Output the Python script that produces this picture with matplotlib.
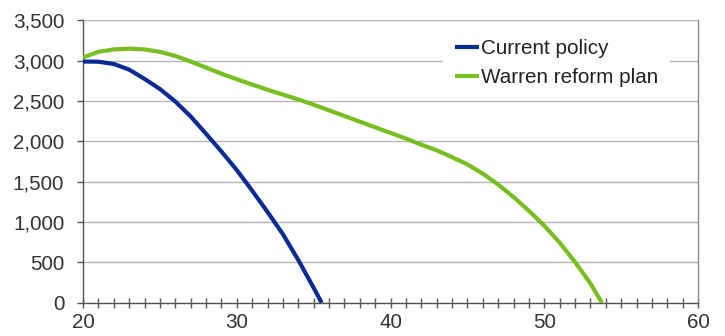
import matplotlib
matplotlib.use('Agg')
import matplotlib.pyplot as plt
from matplotlib.ticker import MultipleLocator, FuncFormatter

plt.rcParams['font.family'] = ['Liberation Sans', 'DejaVu Sans']

# ── Data ────────────────────────────────────────────────────────────────────
current_age = [20, 21, 22, 23, 24, 25, 26, 27, 28, 29, 30, 31, 32, 33, 34, 35, 35.52]
current_vals = [2990, 2988, 2960, 2890, 2775, 2650, 2495, 2310, 2095, 1875, 1645,
                1390, 1125, 850, 530, 185, 0]

warren_age = [20, 21, 22, 23, 24, 25, 26, 27, 28, 29, 30, 31, 32, 33, 34, 35, 36,
              37, 38, 39, 40, 41, 42, 43, 44, 45, 46, 47, 48, 49, 50, 51, 52, 53, 53.75]
warren_vals = [3040, 3110, 3140, 3150, 3140, 3110, 3060, 2990, 2915, 2840, 2770,
               2705, 2640, 2580, 2520, 2455, 2385, 2315, 2245, 2175, 2105, 2035,
               1960, 1890, 1805, 1715, 1600, 1465, 1310, 1140, 955, 745, 505, 240, 0]

labels = ['Current policy', 'Warren reform plan']
colors = ['#0A2A98', '#78BE21']

fig = plt.figure(figsize=(7.25, 3.36), dpi=100)
ax = fig.add_axes([83 / 725, 1 - 302.7 / 336, (698 - 83) / 725, (302.7 - 20.4) / 336])

ax.plot(current_age, current_vals, color=colors[0], lw=3.0, label=labels[0],
        solid_capstyle='butt', zorder=3)
ax.plot(warren_age, warren_vals, color=colors[1], lw=3.0, label=labels[1],
        solid_capstyle='butt', zorder=3)

ax.set_xlim(20, 60)
ax.set_ylim(0, 3500)
ax.xaxis.set_major_locator(MultipleLocator(10))
ax.xaxis.set_minor_locator(MultipleLocator(1))
ax.yaxis.set_major_locator(MultipleLocator(500))
ax.yaxis.set_major_formatter(FuncFormatter(lambda v, p: f'{v:,.0f}'))

ax.grid(axis='y', color='#B4B4B4', lw=1.0)
ax.set_axisbelow(True)

for side in ('left', 'bottom'):
    ax.spines[side].set_color('#555555')
    ax.spines[side].set_linewidth(1.0)
ax.spines['right'].set_color('#8A8A8A')
ax.spines['right'].set_linewidth(1.0)
ax.spines['top'].set_visible(False)

ax.tick_params(axis='x', which='both', direction='inout', length=7.5, width=1,
               color='#555555', labelsize=14.9, labelcolor='#333333', pad=4)
ax.tick_params(axis='y', direction='out', length=4.5, width=1, color='#555555',
               labelsize=14.9, labelcolor='#333333', pad=9)

leg = ax.legend(loc='upper left', bbox_to_anchor=(443 / 725, 1 - 27 / 336),
                bbox_transform=fig.transFigure, fontsize=14.9, frameon=True,
                facecolor='white', edgecolor='none', framealpha=1, fancybox=False,
                handlelength=1.12, handletextpad=0.1, borderpad=0.6,
                labelspacing=0.46, borderaxespad=0)
for t in leg.get_texts():
    t.set_color('#222222')

fig.savefig('out.png', dpi=100)
